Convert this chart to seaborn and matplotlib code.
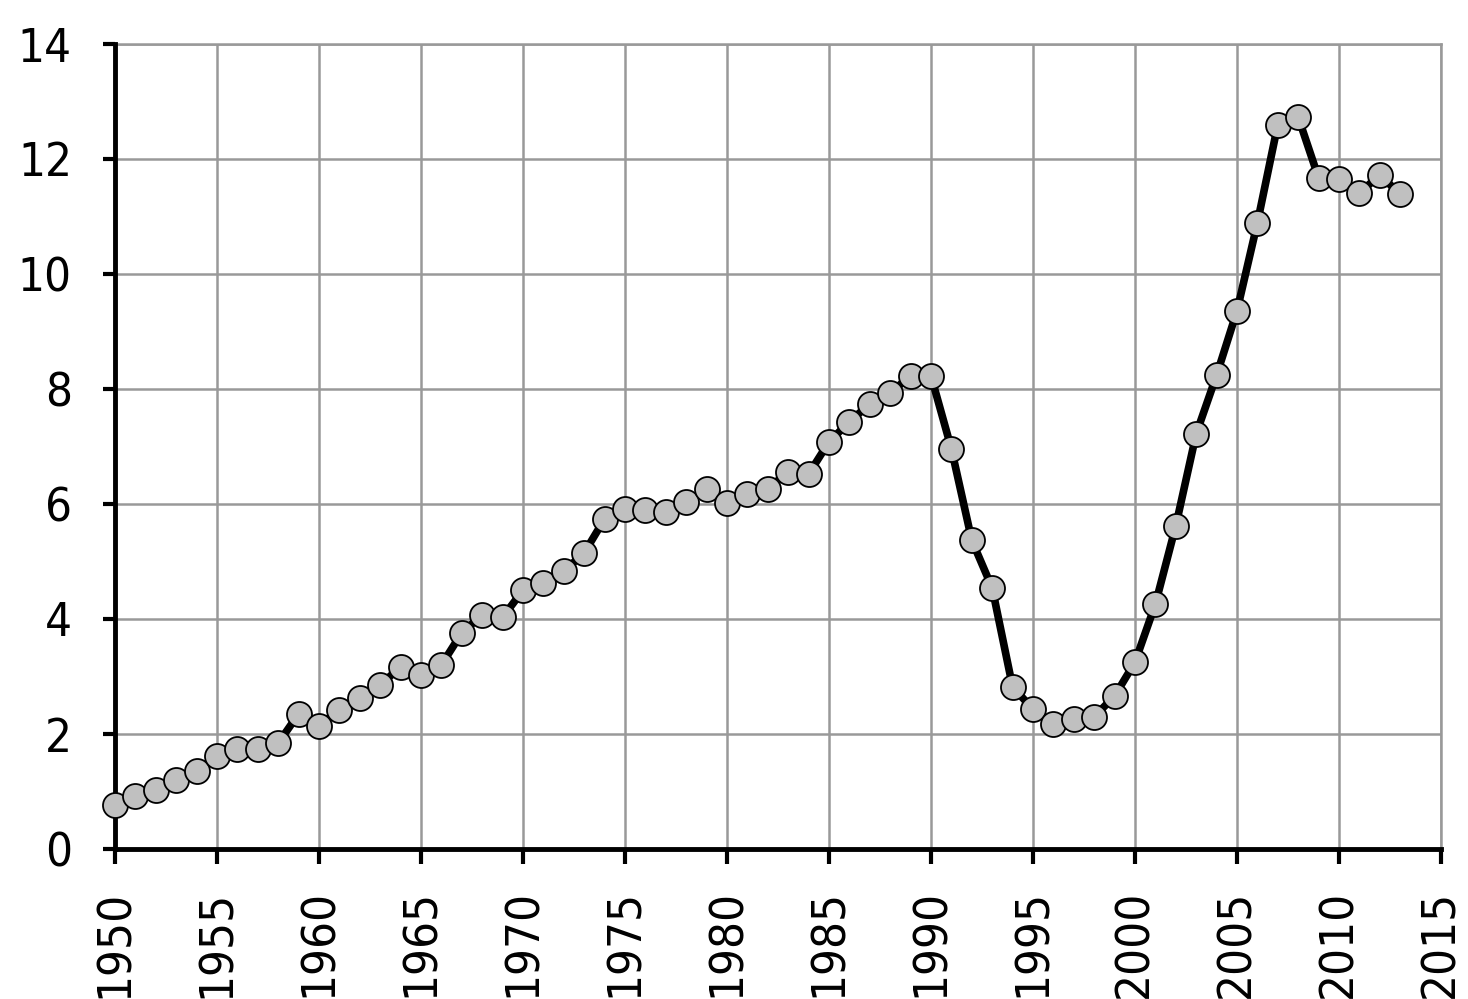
import numpy as np
import pandas as pd
import matplotlib
matplotlib.use('Agg')
import matplotlib.pyplot as plt
import seaborn as sns

sns.set_style('white')
plt.rcParams['font.family'] = ['DejaVu Sans']

# Data
years = list(range(1950, 2014))
values = [0.77, 0.92, 1.03, 1.20, 1.36, 1.62, 1.74, 1.74, 1.84, 2.35,
          2.14, 2.42, 2.63, 2.85, 3.17, 3.03, 3.20, 3.76, 4.07, 4.03,
          4.50, 4.63, 4.83, 5.15, 5.74, 5.91, 5.90, 5.86, 6.03, 6.26,
          6.02, 6.17, 6.26, 6.56, 6.52, 7.08, 7.43, 7.74, 7.93, 8.23,
          8.23, 6.96, 5.37, 4.54, 2.82, 2.43, 2.17, 2.26, 2.30, 2.66,
          3.25, 4.26, 5.62, 7.22, 8.24, 9.36, 10.89, 12.60, 12.73, 11.67,
          11.65, 11.41, 11.72, 11.39]
xticks = list(range(1950, 2016, 5))
yticks = list(range(0, 15, 2))

df = pd.DataFrame({'year': years, 'value': values})

fig = plt.figure(figsize=(14.68, 9.99), dpi=100)
ax = fig.add_axes([115/1468, 1 - 849/999, (1441 - 115)/1468, (849 - 44)/999])

sns.lineplot(data=df, x='year', y='value', ax=ax, color='black', linewidth=5.5,
             marker='o', markersize=18, markerfacecolor='#c0c0c0',
             markeredgecolor='black', markeredgewidth=1.3, clip_on=False, zorder=5)

ax.set_xlim(1950, 2015)
ax.set_ylim(0, 14)
ax.set_xticks(xticks)
ax.set_yticks(yticks)
ax.set_xlabel('')
ax.set_ylabel('')

ax.grid(True, color='#999999', linewidth=1.8)
ax.set_axisbelow(True)

for side in ['left', 'bottom']:
    ax.spines[side].set_color('black')
    ax.spines[side].set_linewidth(3.5)
    ax.spines[side].set_zorder(4)
for side in ['top', 'right']:
    ax.spines[side].set_color('#999999')
    ax.spines[side].set_linewidth(1.8)

ax.tick_params(axis='y', direction='out', length=9, width=3, pad=22,
               labelsize=34, left=True, colors='black')
ax.tick_params(axis='x', direction='out', length=11, width=3, pad=18,
               labelsize=34, bottom=True, labelrotation=90, colors='black')
for lab in ax.get_xticklabels() + ax.get_yticklabels():
    lab.set_fontstretch('condensed')

fig.savefig('out.png', dpi=100, facecolor='white')
